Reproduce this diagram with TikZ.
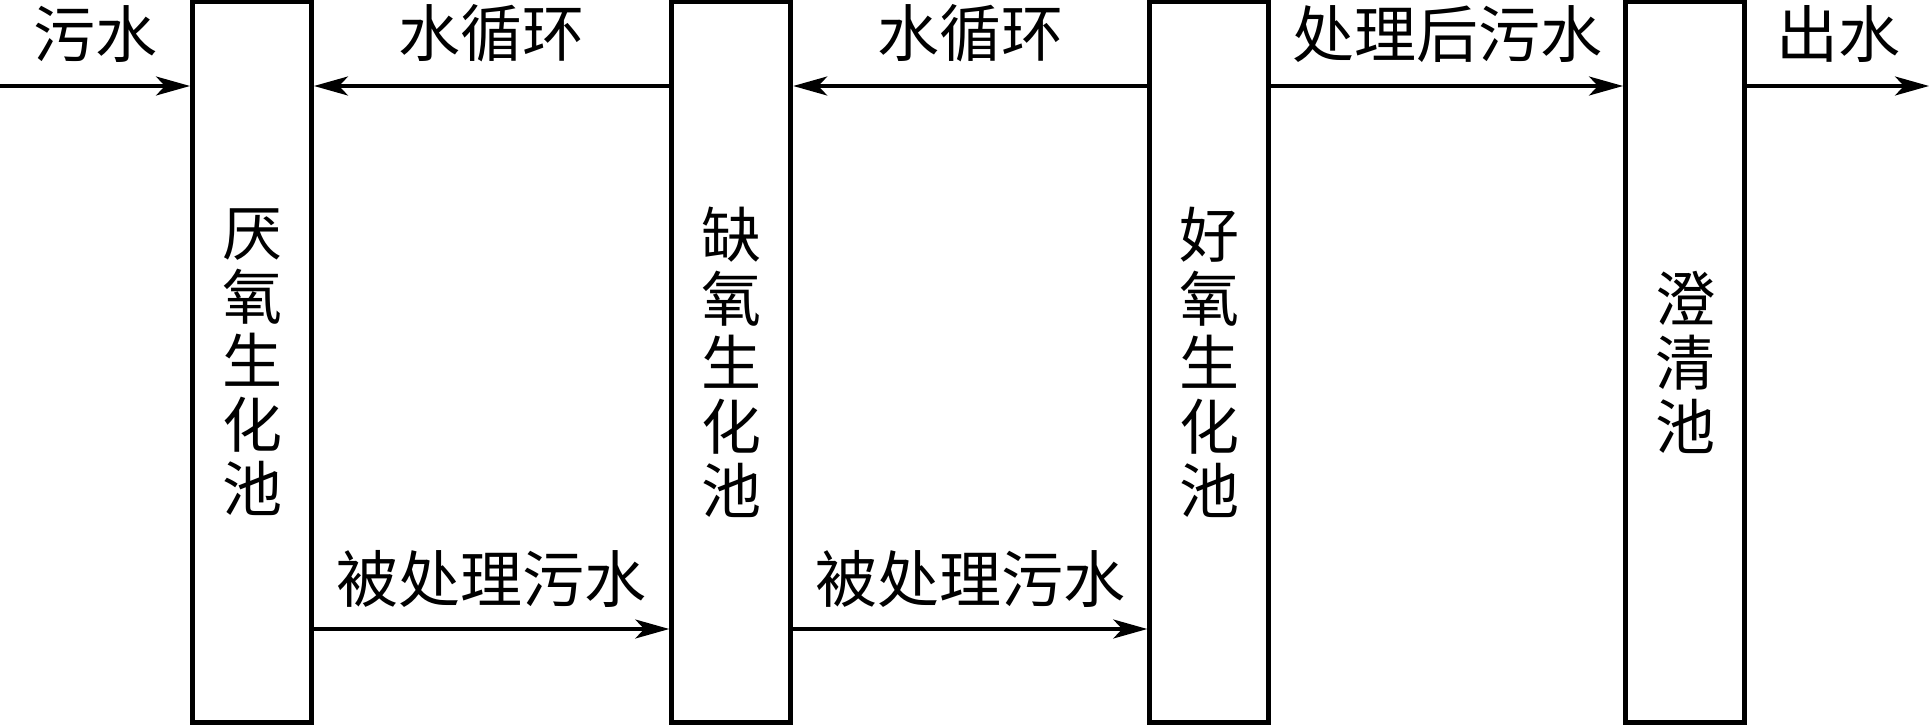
\documentclass[tikz,border=0pt]{standalone}
\usepackage{fontspec}
\newfontfamily\cjk{Noto Sans CJK SC}
\usetikzlibrary{arrows.meta}
\tikzset{
  pool/.style={draw, line width=5pt, minimum width=119pt, minimum height=720pt, inner sep=0pt, align=center, font=\cjk\fontsize{60}{64}\selectfont},
  flow/.style={line width=3.2pt, -{Stealth[length=34pt,width=19pt,inset=9pt]}},
  lbl/.style={font=\cjk\fontsize{62}{64}\selectfont, inner sep=0pt}
}
\begin{document}
\begin{tikzpicture}[x=1pt,y=-1pt]
\useasboundingbox (0,0) rectangle (1931,725);
\node[pool] (b1) at (252,362) {厌\\氧\\生\\化\\池};
\node[pool] (b2) at (731.25,362) {缺\\氧\\生\\化\\池};
\node[pool] (b3) at (1209.25,362) {好\\氧\\生\\化\\池};
\node[pool] (b4) at (1685,362) {澄\\清\\池};
\coordinate (ytop) at (0,86);
\coordinate (ybot) at (0,629);
\coordinate (in) at (0,86);
\coordinate (out) at (1929,86);
\draw[flow] (in) -- (b1.west |- ytop) node[lbl, midway, above=22pt] {污水};
\draw[flow] (b2.west |- ytop) -- (b1.east |- ytop) node[lbl, midway, above=22pt] {水循环};
\draw[flow] (b3.west |- ytop) -- (b2.east |- ytop) node[lbl, midway, above=22pt] {水循环};
\draw[flow] (b3.east |- ytop) -- (b4.west |- ytop) node[lbl, midway, above=22pt] {处理后污水};
\draw[flow] (b4.east |- ytop) -- (out) node[lbl, midway, above=22pt] {出水};
\draw[flow] (b1.east |- ybot) -- (b2.west |- ybot) node[lbl, midway, above=20pt] {被处理污水};
\draw[flow] (b2.east |- ybot) -- (b3.west |- ybot) node[lbl, midway, above=20pt] {被处理污水};
\end{tikzpicture}
\end{document}
